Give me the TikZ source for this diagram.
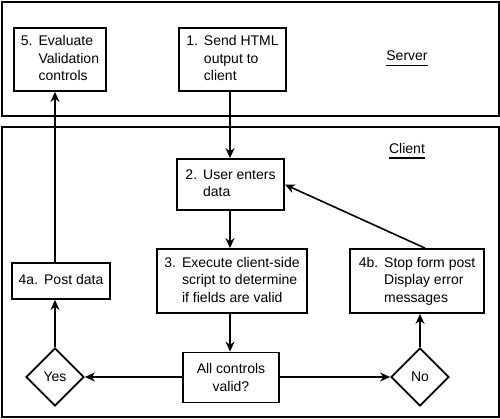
\documentclass[tikz,border=0pt]{standalone}
\usepackage{fontspec}
\setmainfont{Liberation Sans}
\usetikzlibrary{arrows.meta,shapes.geometric}
\newcommand{\stepitem}[2]{\begin{tabular}{@{}l@{\hspace{6pt}}l@{}}#1&#2\end{tabular}}
\begin{document}
\begin{tikzpicture}[x=1pt,y=-1pt,
  txt/.style={font=\fontsize{14}{17.5}\selectfont},
  box/.style={txt,draw,line width=1.8pt,inner sep=0pt,align=center},
  dia/.style={txt,draw,diamond,line width=1.8pt,inner sep=0pt,minimum width=58pt,minimum height=58pt},
  frame/.style={draw,line width=2pt},
  arr/.style={line width=1.6pt,-{Stealth[length=10pt,width=9pt]}},
  ln/.style={line width=1.6pt}]
\useasboundingbox (0,0) rectangle (500,418);
\draw[frame] (1.5,1.5) rectangle (498.5,115.5);
\draw[frame] (1.5,127) rectangle (498.5,416.5);

\node[box,minimum width=92pt,minimum height=63pt] (n5) at (60,59.5)
  {\stepitem{5.}{Evaluate\\&Validation\\&controls}};
\node[box,minimum width=107pt,minimum height=63pt] (n1) at (232.5,59.5)
  {\stepitem{1.}{Send HTML\\&output to\\&client}};
\node[txt,inner xsep=0pt] (srv) at (407,56) {Server};
\draw[line width=1.3pt] ([yshift=-5pt]srv.base west) -- ([yshift=-5pt]srv.base east);
\node[txt,inner xsep=0pt] (cli) at (407,148) {Client};
\draw[line width=1.3pt] ([yshift=-5pt]cli.base west) -- ([yshift=-5pt]cli.base east);

\node[box,minimum width=107pt,minimum height=51pt] (n2) at (230.5,184.5)
  {\stepitem{2.}{User enters\\&data}};
\node[box,minimum width=150pt,minimum height=64pt] (n3) at (232,281)
  {\stepitem{3.}{Execute client-side\\&script to determine\\&if fields are valid}};
\node[box,minimum width=134pt,minimum height=64pt] (n4b) at (417,281)
  {\stepitem{4b.}{Stop form post\\&Display error\\&messages}};
\node[box,minimum width=98pt,minimum height=36pt] (n4a) at (61,281)
  {\stepitem{4a.}{Post data}};
\node[box,minimum width=96pt,minimum height=50pt] (nall) at (231,377.5)
  {All controls\\valid?};
\node[dia] (yes) at (55,377) {Yes};
\node[dia] (no) at (420,377) {No};

\draw[arr] (n1.south -| 230,0) -- (n2.north -| 230,0);
\draw[arr] (n2.south -| 230,0) -- (n3.north -| 230,0);
\draw[arr] (n3.south -| 230,0) -- (nall.north -| 230,0);
\draw[arr] (nall.west |- yes) -- (yes.east);
\draw[arr] (nall.east |- no) -- (no.west);
\draw[arr] (yes.north) -- (yes.north |- n4a.south);
\draw[arr] (n4a.north -| yes) -- (n5.south -| yes);
\draw[arr] (no.north) -- (no.north |- n4b.south);
\draw[arr] ([xshift=8pt]n4b.north) -- (n2.east);
\end{tikzpicture}
\end{document}
